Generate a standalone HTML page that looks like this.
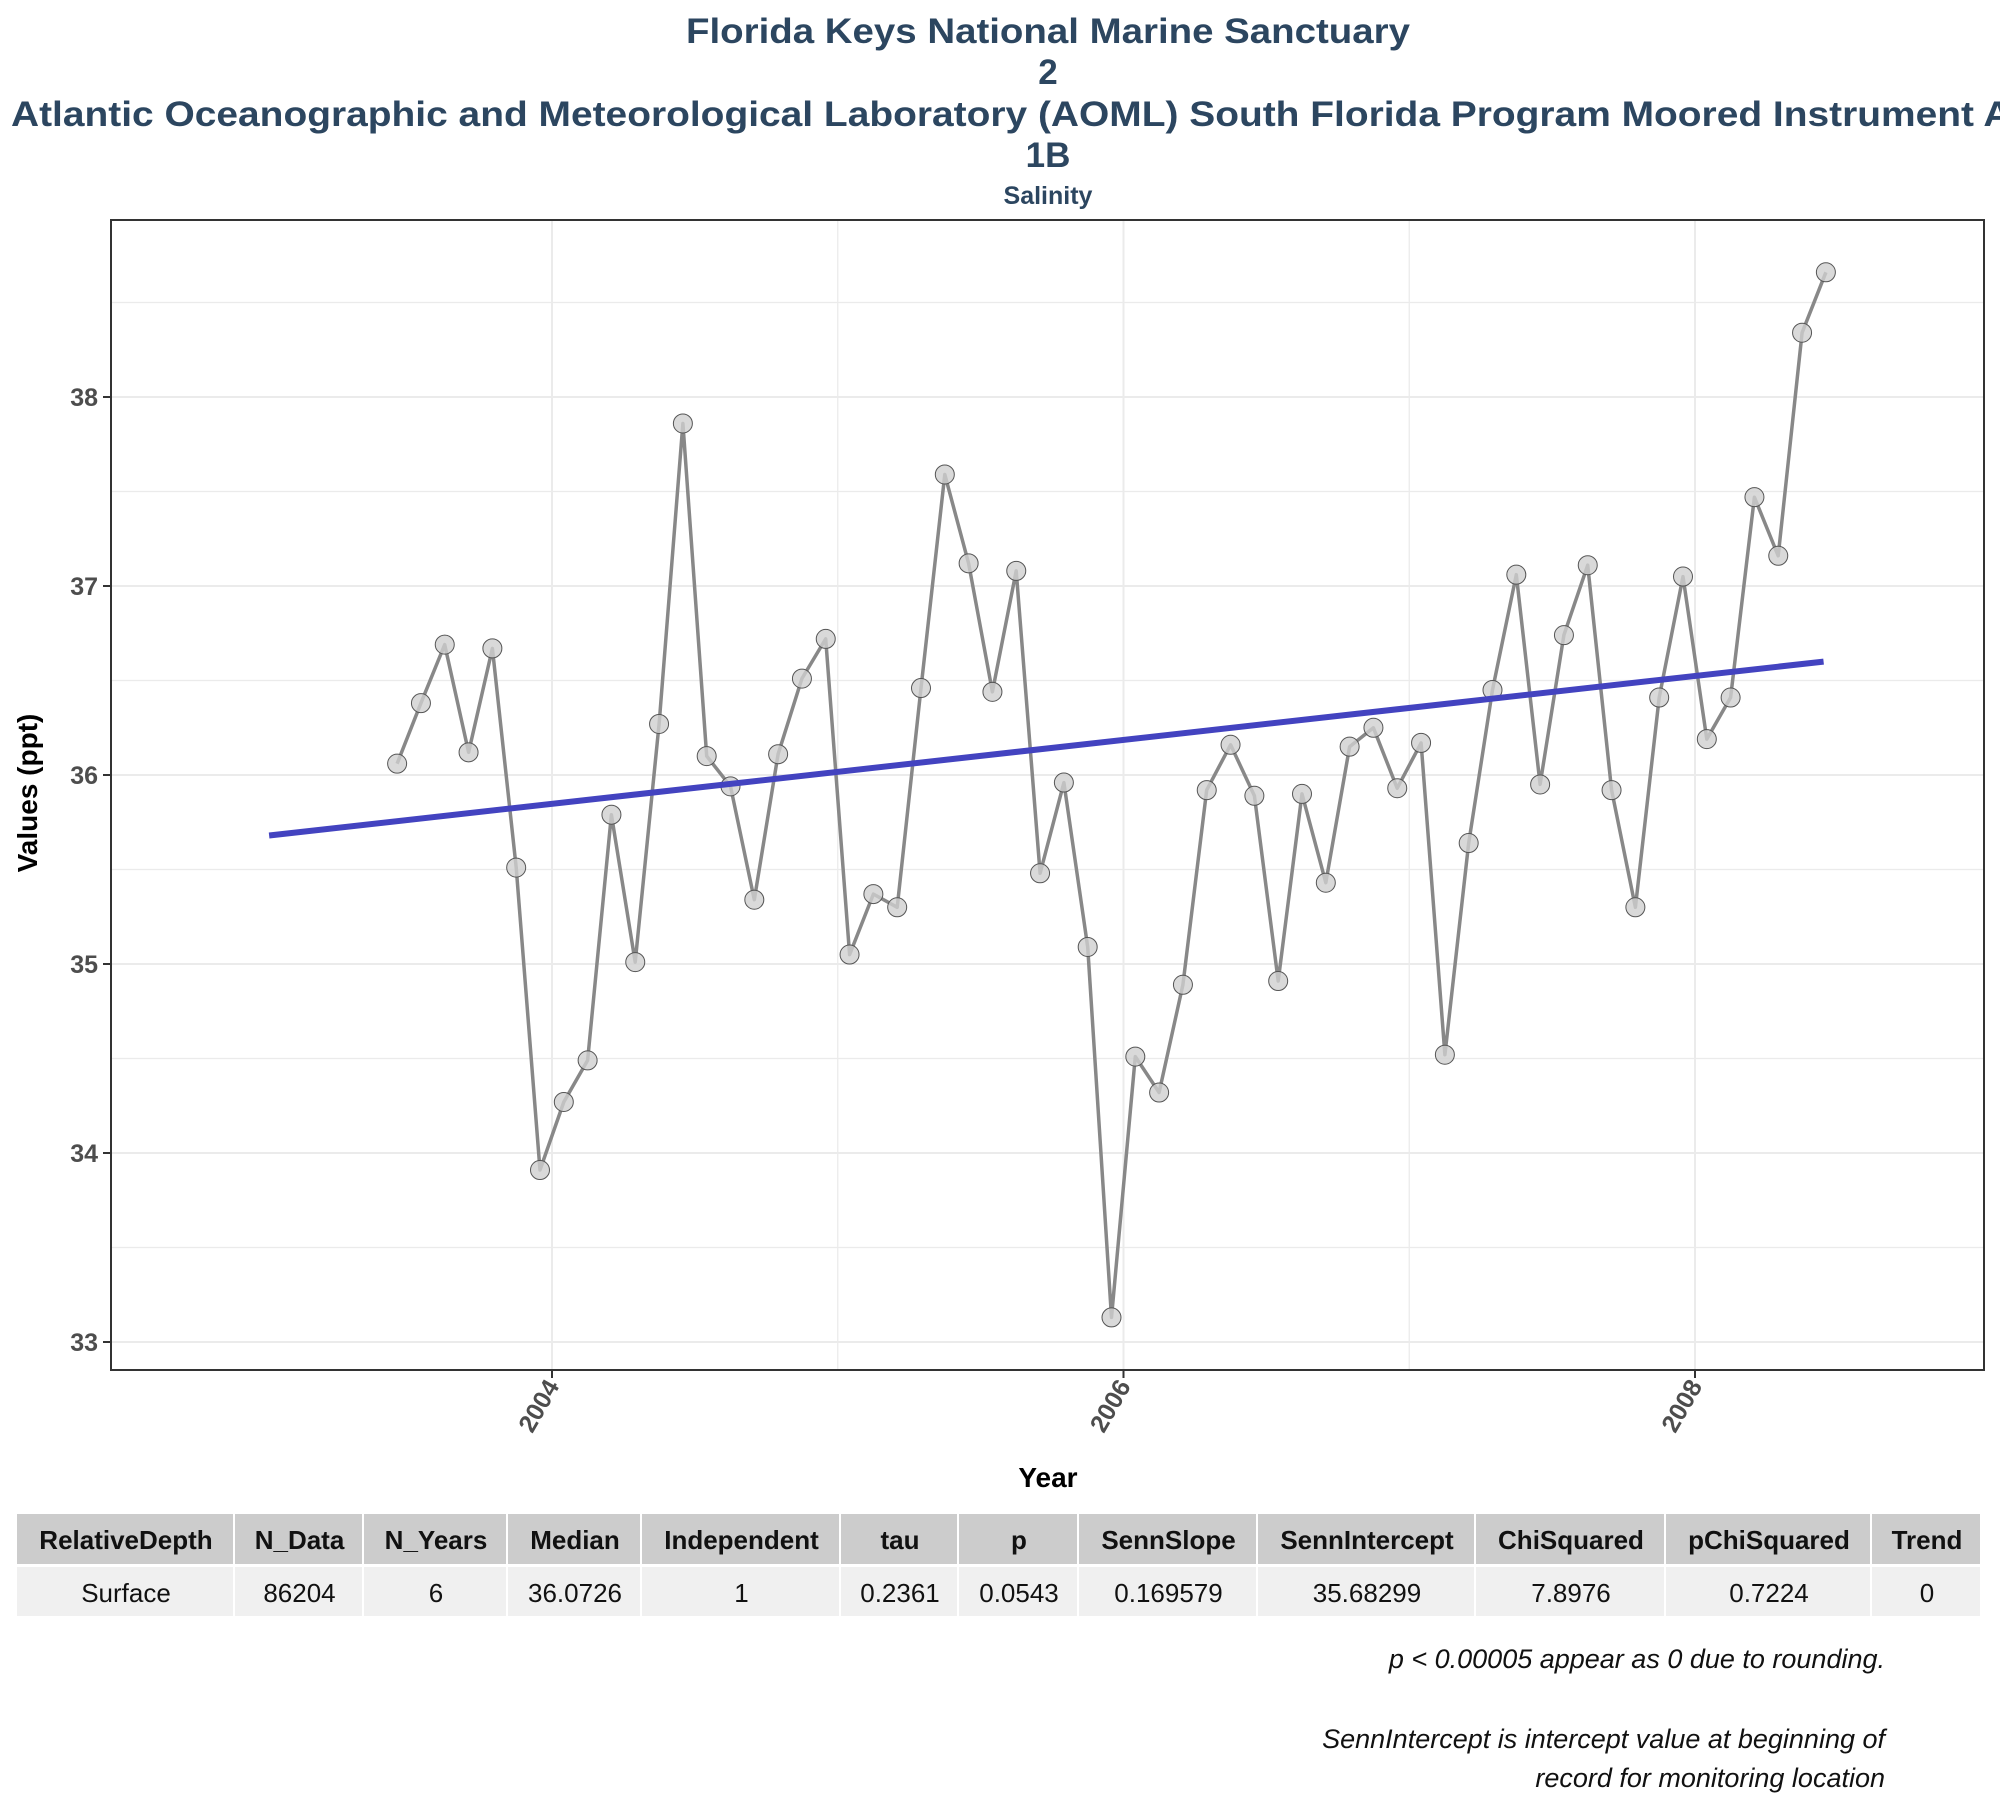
<!DOCTYPE html>
<html><head><meta charset="utf-8"><style>
html,body{margin:0;padding:0;background:#fff;}
svg{display:block;font-family:"Liberation Sans",sans-serif;}
</style></head><body>
<svg id="chart" width="2000" height="1800" viewBox="0 0 2000 1800" xmlns="http://www.w3.org/2000/svg">
<g fill="#2c4660" font-weight="bold" text-anchor="middle">
<text x="1048" y="43" font-size="35" textLength="724" lengthAdjust="spacingAndGlyphs">Florida Keys National Marine Sanctuary</text>
<text x="1048" y="84" font-size="35">2</text>
<text x="1048" y="126" font-size="35" textLength="2074" lengthAdjust="spacingAndGlyphs">Atlantic Oceanographic and Meteorological Laboratory (AOML) South Florida Program Moored Instrument Array</text>
<text x="1048" y="167" font-size="35">1B</text>
<text x="1048" y="204" font-size="25">Salinity</text>
</g>
<rect x="111" y="220" width="1873" height="1150" fill="#fff"/>
<g id="grid"></g>
<g id="marks"></g>
<rect x="111" y="220" width="1873" height="1150" fill="none" stroke="#333" stroke-width="2"/>
<g id="axes"></g>
<text x="1048" y="1487" font-size="28" font-weight="bold" text-anchor="middle">Year</text>
<text transform="translate(37,793) rotate(-90)" font-size="28" font-weight="bold" text-anchor="middle">Values (ppt)</text>
<g id="table" font-size="26" text-anchor="middle"></g>
<g font-size="27" font-style="italic" text-anchor="end" fill="#111">
<text x="1885" y="1668">p &lt; 0.00005 appear as 0 due to rounding.</text>
<text x="1885" y="1748">SennIntercept is intercept value at beginning of</text>
<text x="1885" y="1787">record for monitoring location</text>
</g>
</svg>
<script>
const startYear = 2003.458;
const salinity = [36.06,36.38,36.69,36.12,36.67,35.51,33.91,34.27,34.49,35.79,35.01,36.27,37.86,36.10,35.94,35.34,36.11,36.51,36.72,35.05,35.37,35.30,36.46,37.59,37.12,36.44,37.08,35.48,35.96,35.09,33.13,34.51,34.32,34.89,35.92,36.16,35.89,34.91,35.90,35.43,36.15,36.25,35.93,36.17,34.52,35.64,36.45,37.06,35.95,36.74,37.11,35.92,35.30,36.41,37.05,36.19,36.41,37.47,37.16,38.34,38.66];
const trendYears = [2003.01, 2008.45];
const trendValues = [35.68, 36.60];
const yTicks = [33,34,35,36,37,38];
const xTicks = [2004,2006,2008];
const tableHeaders = ["RelativeDepth","N_Data","N_Years","Median","Independent","tau","p","SennSlope","SennIntercept","ChiSquared","pChiSquared","Trend"];
const tableRow = ["Surface","86204","6","36.0726","1","0.2361","0.0543","0.169579","35.68299","7.8976","0.7224","0"];

const NS="http://www.w3.org/2000/svg";
function xs(yr){return 552+(yr-2004)*285.75;}
function ys(v){return 397+(38-v)*189;}
function mk(tag,attrs,parent){const e=document.createElementNS(NS,tag);for(const k in attrs)e.setAttribute(k,attrs[k]);parent.appendChild(e);return e;}
const grid=document.getElementById('grid'),marks=document.getElementById('marks'),axes=document.getElementById('axes'),table=document.getElementById('table');
for(let v=33;v<=38.5;v+=0.5){const l=mk('line',{x1:111,x2:1984,y1:ys(v),y2:ys(v),stroke:'#ebebeb','stroke-width':v%1===0?2:1.3},grid);

}
for(let yr=2004;yr<=2008;yr+=1){const l=mk('line',{x1:xs(yr),x2:xs(yr),y1:220,y2:1370,stroke:'#ebebeb','stroke-width':yr%2===0?2:1.3},grid);

}
const pts=salinity.map((v,i)=>xs(startYear+i/12).toFixed(1)+','+ys(v).toFixed(1)).join(' ');
const pl=mk('polyline',{points:pts,fill:'none',stroke:'#888','stroke-width':3.5,'stroke-linejoin':'round'},marks);


salinity.forEach((v,i)=>{const c=mk('circle',{cx:xs(startYear+i/12),cy:ys(v),r:9.5,fill:'#cfcfcf','fill-opacity':0.8,stroke:'#555','stroke-width':1},marks);

});
const tl=mk('line',{x1:xs(trendYears[0]),y1:ys(trendValues[0]),x2:xs(trendYears[1]),y2:ys(trendValues[1]),stroke:'#4343c0','stroke-width':6},marks);


yTicks.forEach(v=>{const t=mk('line',{x1:103,x2:111,y1:ys(v),y2:ys(v),stroke:'#333','stroke-width':2},axes);


const tx=mk('text',{x:98,y:ys(v)+9,'font-size':25,'font-weight':'bold',fill:'#4d4d4d','text-anchor':'end'},axes);tx.textContent=v;

});
xTicks.forEach(yr=>{const x=xs(yr);const t=mk('line',{x1:x,x2:x,y1:1370,y2:1378,stroke:'#333','stroke-width':2},axes);


const tx=mk('text',{transform:`translate(${x+8},1386) rotate(-60)`,'font-size':25,'font-weight':'bold',fill:'#4d4d4d','text-anchor':'end'},axes);tx.textContent=yr;

});
const colEdges=[17,235,364,508,642,841,959,1079,1258,1476,1666,1872,1982];
tableHeaders.forEach((h,i)=>{const x0=colEdges[i],x1=colEdges[i+1];
const r=mk('rect',{x:x0,y:1514,width:x1-x0-2,height:50,fill:'#cccccc'},table);


const t=mk('text',{x:(x0+x1)/2,y:1549,'font-weight':'bold',fill:'#111'},table);t.textContent=h;


const r2=mk('rect',{x:x0,y:1567,width:x1-x0-2,height:49,fill:'#f0f0f0'},table);


const t2=mk('text',{x:(x0+x1)/2,y:1602,fill:'#111'},table);t2.textContent=tableRow[i];

});
</script>
</body></html>
